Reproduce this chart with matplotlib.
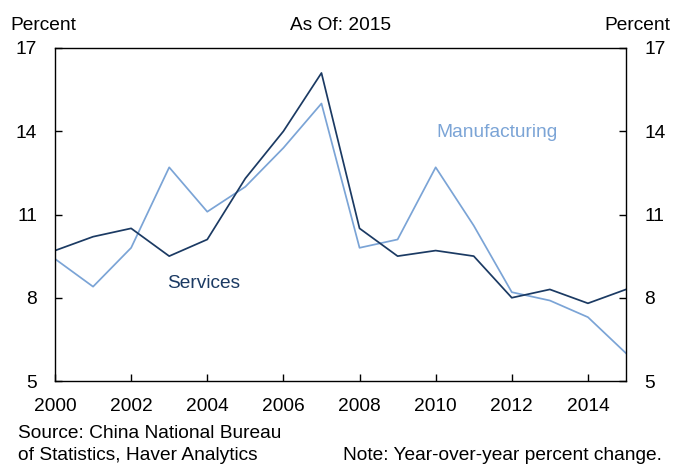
import matplotlib
matplotlib.use("Agg")
import matplotlib.pyplot as plt

years = list(range(2000, 2016))
services = [9.7, 10.2, 10.5, 9.5, 10.1, 12.3, 14.0, 16.1, 10.5, 9.5, 9.7, 9.5, 8.0, 8.3, 7.8, 8.3]
manufacturing = [9.4, 8.4, 9.8, 12.7, 11.1, 12.0, 13.4, 15.0, 9.8, 10.1, 12.7, 10.6, 8.2, 7.9, 7.3, 6.0]
x_ticks = list(range(2000, 2016, 2))
y_ticks = [5, 8, 11, 14, 17]

navy = "#1b3a63"
light = "#7ba4d6"

plt.rcParams['font.family'] = ['Liberation Sans', 'DejaVu Sans']
fs = 13.8

W, H = 673, 466
fig = plt.figure(figsize=(W / 100, H / 100), dpi=100)
ax = fig.add_axes([55 / W, 1 - 381 / H, (626 - 55) / W, (381 - 48) / H])

ax.plot(years, manufacturing, color=light, lw=1.25)
ax.plot(years, services, color=navy, lw=1.25)

ax.set_xlim(2000, 2015)
ax.set_ylim(5, 17)
ax.set_xticks(x_ticks)
ax.set_yticks(y_ticks)
ax.tick_params(axis='x', direction='in', length=5, width=1, labelsize=fs, pad=12)
ax.tick_params(axis='y', direction='in', length=5, width=1, labelsize=fs, pad=13,
               right=True, labelright=True)
for s in ax.spines.values():
    s.set_linewidth(1.0)
    s.set_color("black")

# series labels sit in the plot, no legend
ax.text(2011.6, 13.95, "Manufacturing", color=light, fontsize=fs, ha='center', va='center')
ax.text(2003.9, 8.5, "Services", color=navy, fontsize=fs, ha='center', va='center')

fig.text(10 / W, 1 - 25 / H, "Percent", fontsize=fs, ha='left', va='center')
fig.text(670 / W, 1 - 25 / H, "Percent", fontsize=fs, ha='right', va='center')
fig.text(340 / W, 1 - 25 / H, "As Of: 2015", fontsize=fs, ha='center', va='center')

fig.text(18 / W, 1 - 433 / H, "Source: China National Bureau", fontsize=fs, ha='left', va='center')
fig.text(18 / W, 1 - 456 / H, "of Statistics, Haver Analytics", fontsize=fs, ha='left', va='center')
fig.text(662 / W, 1 - 456 / H, "Note: Year-over-year percent change.", fontsize=fs, ha='right', va='center')

fig.savefig("out.png", dpi=100)
